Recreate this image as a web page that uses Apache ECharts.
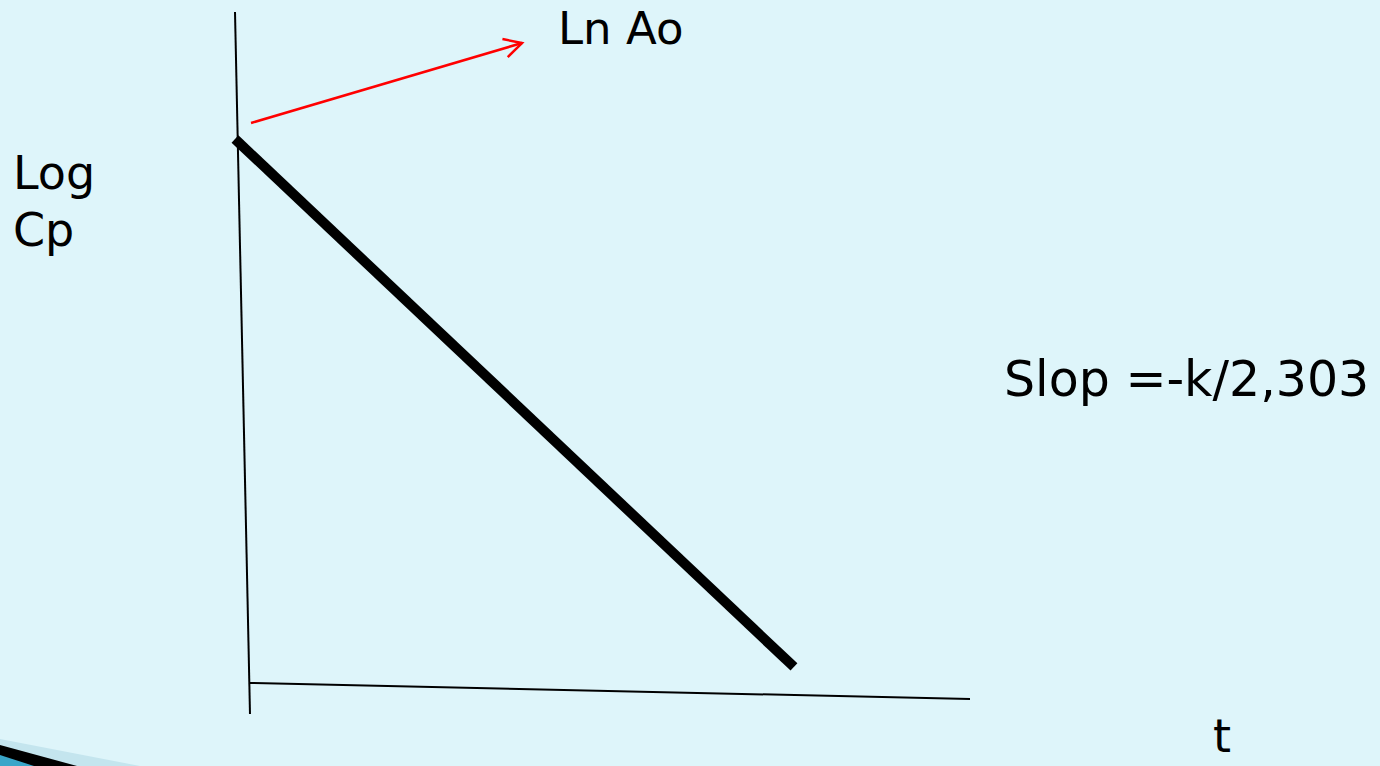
<!DOCTYPE html>
<html>
<head>
<meta charset="utf-8">
<style>
html,body{margin:0;padding:0;background:#def5fa;}
#chart{width:1380px;height:766px;}
</style>
<script src="https://cdn.jsdelivr.net/npm/echarts@6/dist/echarts.min.js"></script>
</head>
<body>
<div id="chart"></div>
<script>
// Data (chart units: x 0..100 = time, y 0..100 = Log Cp)
const verticalAxisLine = [[0, 100], [2.04, 0]];
const timeAxisLine = [[2.04, 4.42], [100, 2.14]];
const decayLine = [[0, 81.91], [76.05, 6.70]];
const lnAoArrow = [[2.18, 84.19, 39.05, 95.58]];
const labels = {
  lnAo: 'Ln Ao',
  logCp: ['Log', 'Cp'],
  slope: 'Slop =-k/2,303',
  t: 't'
};

const chart = echarts.init(document.getElementById('chart'), null, {renderer: 'svg'});
const FONT = '"DejaVu Sans", Verdana, sans-serif';

function arrowRender(params, api) {
  const p1 = api.coord([api.value(0), api.value(1)]);
  const p2 = api.coord([api.value(2), api.value(3)]);
  const ang = Math.atan2(p1[1] - p2[1], p1[0] - p2[0]);
  const len = 20, spread = 28 * Math.PI / 180;
  const a1 = [p2[0] + len * Math.cos(ang + spread), p2[1] + len * Math.sin(ang + spread)];
  const a2 = [p2[0] + len * Math.cos(ang - spread), p2[1] + len * Math.sin(ang - spread)];
  const st = {stroke: '#ff0000', lineWidth: 2.5, fill: null};
  return {
    type: 'group',
    children: [
      {type: 'line', shape: {x1: p1[0], y1: p1[1], x2: p2[0], y2: p2[1]}, style: st},
      {type: 'polyline', shape: {points: [a1, p2, a2]}, style: st}
    ]
  };
}

chart.setOption({
  backgroundColor: '#def5fa',
  animation: false,
  grid: {left: 235, top: 12, width: 735, height: 702, containLabel: false},
  xAxis: {type: 'value', min: 0, max: 100, show: false},
  yAxis: {type: 'value', min: 0, max: 100, show: false},
  series: [
    {type: 'line', data: verticalAxisLine, symbol: 'none', lineStyle: {color: '#000', width: 2}},
    {type: 'line', data: timeAxisLine, symbol: 'none', lineStyle: {color: '#000', width: 2}},
    {type: 'line', data: decayLine, symbol: 'none', lineStyle: {color: '#000', width: 10, cap: 'butt'}},
    {type: 'custom', data: lnAoArrow, renderItem: arrowRender, encode: {x: [0, 2], y: [1, 3]}}
  ],
  graphic: [
    {type: 'polygon', shape: {points: [[0, 739], [140, 766], [0, 766]]}, style: {fill: '#c4e5ee'}, silent: true},
    {type: 'polygon', shape: {points: [[0, 745], [77, 766], [0, 766]]}, style: {fill: '#000'}, silent: true},
    {type: 'polygon', shape: {points: [[0, 755], [34, 766], [0, 766]]}, style: {fill: '#3aa6c9'}, silent: true},
    {type: 'text', x: 558, y: 28.5, style: {text: labels.lnAo, font: '45px ' + FONT, fill: '#000', verticalAlign: 'middle'}},
    {type: 'text', x: 13, y: 173, style: {text: labels.logCp[0], font: '46px ' + FONT, fill: '#000', verticalAlign: 'middle'}},
    {type: 'text', x: 13, y: 229.5, style: {text: labels.logCp[1], font: '46px ' + FONT, fill: '#000', verticalAlign: 'middle'}},
    {type: 'text', x: 1004, y: 379.5, style: {text: labels.slope, font: '49px ' + FONT, fill: '#000', verticalAlign: 'middle'}},
    {type: 'text', x: 1213, y: 736, style: {text: labels.t, font: '46px ' + FONT, fill: '#000', verticalAlign: 'middle'}}
  ]
});
</script>
</body>
</html>
